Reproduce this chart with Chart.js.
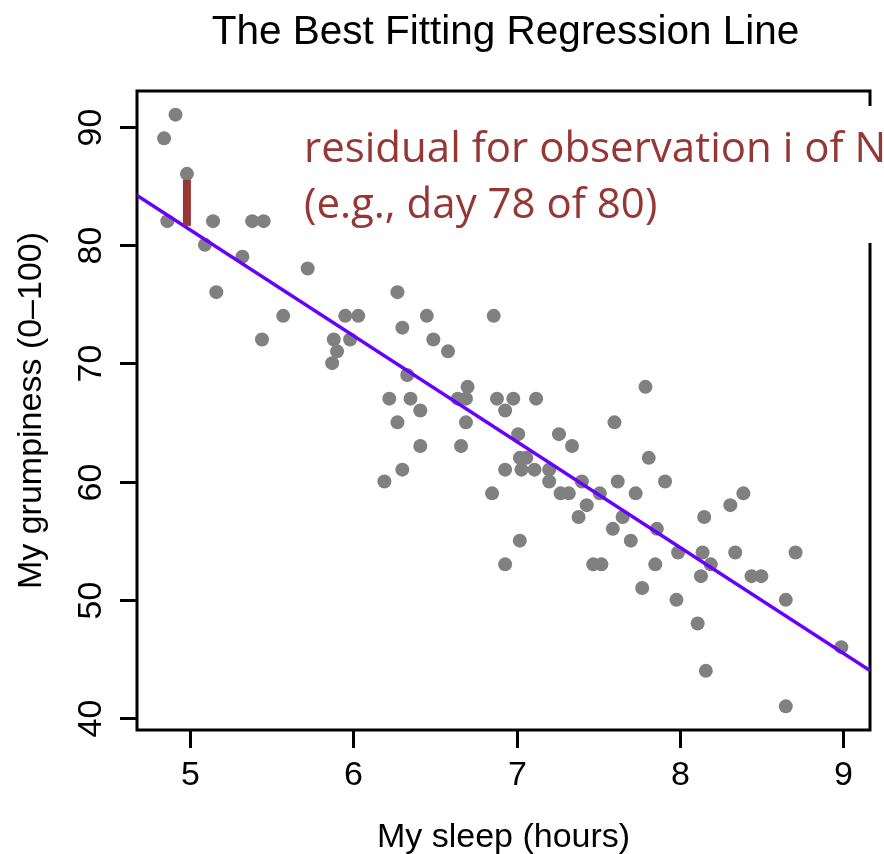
<!DOCTYPE html>
<html>
<head>
<meta charset="utf-8">
<title>The Best Fitting Regression Line</title>
<script src="https://cdn.jsdelivr.net/npm/chart.js@4.4.1/dist/chart.umd.min.js"></script>
<style>
  html, body { margin: 0; padding: 0; background: #ffffff; }
  canvas { display: block; }
</style>
</head>
<body>
<canvas id="chart" width="884" height="854"></canvas>
<script>
// Daily observations: hours slept and grumpiness rating (0-100)
const sleepHours = [
  4.91, 4.84, 4.98, 4.86, 5.14, 5.38, 5.45, 5.09, 5.32, 5.72,
  5.16, 6.27, 5.57, 5.95, 6.03, 6.45, 6.86, 6.30, 5.44, 5.88,
  5.98, 6.49, 5.90, 6.58, 5.87, 6.33, 6.70, 7.79, 6.22, 6.35,
  6.64, 6.69, 6.88, 6.98, 7.12, 6.41, 6.93, 6.27, 6.69, 7.60,
  7.01, 7.26, 6.41, 6.66, 7.34, 7.02, 7.06, 7.81, 6.30, 6.93,
  7.03, 7.11, 7.20, 6.19, 7.20, 7.40, 7.62, 7.91, 6.85, 7.27,
  7.32, 7.51, 7.73, 8.39, 7.43, 8.31, 7.38, 7.65, 8.15, 7.59,
  7.86, 7.02, 7.70, 7.99, 8.14, 8.34, 8.71, 6.93, 7.47, 7.52,
  7.85, 8.19, 8.13, 8.44, 8.50, 7.77, 7.98, 8.65, 8.11, 8.99,
  8.16, 8.65
];
const grumpiness = [
  91, 89, 86, 82, 82, 82, 82, 80, 79, 78,
  76, 76, 74, 74, 74, 74, 74, 73, 72, 72,
  72, 72, 71, 71, 70, 69, 68, 68, 67, 67,
  67, 67, 67, 67, 67, 66, 66, 65, 65, 65,
  64, 64, 63, 63, 63, 62, 62, 62, 61, 61,
  61, 61, 61, 60, 60, 60, 60, 60, 59, 59,
  59, 59, 59, 59, 58, 58, 57, 57, 57, 56,
  56, 55, 55, 54, 54, 54, 54, 53, 53, 53,
  53, 53, 52, 52, 52, 51, 50, 50, 48, 46,
  44, 41
];

// Least-squares line, given by its ends at the axis limits
const fitX = [4.674, 9.166];
const fitY = [84.17, 44.02];

// Highlighted residual: from the fitted line up to the observation
const residualX = [4.98, 4.98];
const residualY = [81.6, 85.5];

// Axis limits and tick labels
const xLimits = [4.674, 9.166];
const yLimits = [39, 93];
const xTickValues = [5, 6, 7, 8, 9];
const yTickValues = [40, 50, 60, 70, 80, 90];

const titleText = 'The Best Fitting Regression Line';
const xAxisLabel = 'My sleep (hours)';
const yAxisLabel = 'My grumpiness (0\u2013100)';
const noteLines = ['residual for observation i of N', '(e.g., day 78 of 80)'];

const toPoints = (xs, ys) => xs.map((v, i) => ({ x: v, y: ys[i] }));

const AXIS_FONT = '34px "Liberation Sans", Arial, sans-serif';
const TITLE_FONT = '40.5px "Liberation Sans", Arial, sans-serif';
const NOTE_FONT = '42px "Open Sans", "Noto Sans", sans-serif';
const NOTE_COLOR = '#953735';

// Box, ticks, tick labels and axis titles, drawn from the chart's scales
const frame = {
  id: 'frame',
  beforeDatasetsDraw(chart) {
    const { ctx, chartArea: a, scales: { x, y } } = chart;
    ctx.save();
    ctx.strokeStyle = '#000';
    ctx.lineWidth = 3;
    ctx.lineCap = 'butt';
    ctx.strokeRect(a.left, a.top, a.right - a.left, a.bottom - a.top);

    ctx.fillStyle = '#000';
    ctx.font = AXIS_FONT;

    // x axis ticks and labels
    ctx.textAlign = 'center';
    ctx.textBaseline = 'alphabetic';
    xTickValues.forEach(v => {
      const px = Math.round(x.getPixelForValue(v)) + 0.5;
      ctx.beginPath();
      ctx.moveTo(px, a.bottom);
      ctx.lineTo(px, a.bottom + 18);
      ctx.stroke();
      ctx.fillText(String(v), px, 785);
    });

    // y axis ticks and rotated labels
    yTickValues.forEach(v => {
      const py = Math.round(y.getPixelForValue(v)) + 0.5;
      ctx.beginPath();
      ctx.moveTo(a.left, py);
      ctx.lineTo(a.left - 17, py);
      ctx.stroke();
      ctx.save();
      ctx.translate(101, py);
      ctx.rotate(-Math.PI / 2);
      ctx.fillText(String(v), 0, 0);
      ctx.restore();
    });

    // axis titles
    ctx.fillText(xAxisLabel, (a.left + a.right) / 2, 847);
    ctx.save();
    ctx.translate(41, (a.top + a.bottom) / 2);
    ctx.rotate(-Math.PI / 2);
    ctx.fillText(yAxisLabel, 0, 0);
    ctx.restore();

    // main title
    ctx.font = TITLE_FONT;
    ctx.fillText(titleText, (a.left + a.right) / 2 + 2, 44);
    ctx.restore();
  },
  afterDraw(chart) {
    const { ctx } = chart;
    ctx.save();
    // the note sits on a white panel over the upper right of the box
    ctx.fillStyle = '#ffffff';
    ctx.fillRect(296, 106, 884 - 296, 243 - 106);
    ctx.fillStyle = NOTE_COLOR;
    ctx.font = NOTE_FONT;
    ctx.textAlign = 'left';
    ctx.textBaseline = 'alphabetic';
    ctx.fillText(noteLines[0], 304, 162);
    ctx.fillText(noteLines[1], 304, 218);
    ctx.restore();
  }
};

new Chart(document.getElementById('chart'), {
  type: 'scatter',
  data: {
    datasets: [
      {
        label: 'Residual',
        type: 'line',
        data: toPoints(residualX, residualY),
        borderColor: NOTE_COLOR,
        borderWidth: 8,
        borderCapStyle: 'butt',
        pointRadius: 0,
        showLine: true,
        fill: false,
        order: 0
      },
      {
        label: 'Regression line',
        type: 'line',
        data: toPoints(fitX, fitY),
        borderColor: '#6600ff',
        borderWidth: 3.5,
        pointRadius: 0,
        showLine: true,
        fill: false,
        order: 1
      },
      {
        label: 'Days',
        data: toPoints(sleepHours, grumpiness),
        backgroundColor: '#808080',
        borderWidth: 0,
        pointRadius: 7,
        order: 2
      }
    ]
  },
  options: {
    responsive: false,
    animation: false,
    devicePixelRatio: 1,
    layout: { padding: { left: 137, top: 91, right: 14, bottom: 124 } },
    plugins: {
      legend: { display: false },
      tooltip: { enabled: false },
      title: { display: false }
    },
    scales: {
      x: { type: 'linear', display: false, min: xLimits[0], max: xLimits[1] },
      y: { type: 'linear', display: false, min: yLimits[0], max: yLimits[1] }
    }
  },
  plugins: [frame]
});
</script>
</body>
</html>
